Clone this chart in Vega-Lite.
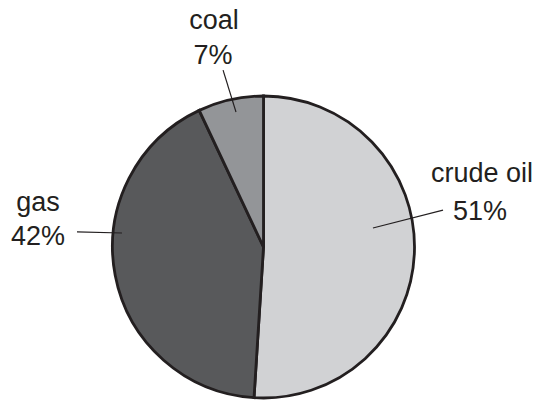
{
  "$schema": "https://vega.github.io/schema/vega-lite/v6.json",
  "width": 539,
  "height": 400,
  "autosize": {"type": "none"},
  "padding": 0,
  "background": "#ffffff",
  "view": {"stroke": null},
  "datasets": {
    "slices": [
      {"source": "crude oil", "value": 51},
      {"source": "gas", "value": 42},
      {"source": "coal", "value": 7}
    ],
    "leaders": [
      {"source": "coal", "x": -0.266, "y": 1.164, "x2": -0.181, "y2": 0.888},
      {"source": "crude oil", "x": 1.181, "y": 0.243, "x2": 0.72, "y2": 0.125},
      {"source": "gas", "x": -1.227, "y": 0.099, "x2": -0.931, "y2": 0.092}
    ],
    "labels": [
      {"text": "coal", "x": -0.326, "y": 1.434},
      {"text": "7%", "x": -0.332, "y": 1.204},
      {"text": "crude oil", "x": 1.4375, "y": 0.428},
      {"text": "51%", "x": 1.424, "y": 0.178},
      {"text": "gas", "x": -1.484, "y": 0.237},
      {"text": "42%", "x": -1.484, "y": 0.013}
    ]
  },
  "layer": [
    {
      "data": {"name": "slices"},
      "mark": {"type": "arc", "outerRadius": 151, "stroke": "#231f20", "strokeWidth": 2.8},
      "encoding": {
        "theta": {"field": "value", "type": "quantitative", "stack": true},
        "order": {"field": "value", "type": "quantitative", "sort": "descending"},
        "color": {
          "field": "source",
          "type": "nominal",
          "scale": {"domain": ["crude oil", "gas", "coal"], "range": ["#d1d2d4", "#58595b", "#939598"]},
          "legend": null
        },
        "x": {"datum": 0, "type": "quantitative", "scale": {"domain": [-1.7336, 1.8125], "nice": false, "zero": false}, "axis": null},
        "y": {"datum": 0, "type": "quantitative", "scale": {"domain": [-1.0066, 1.625], "nice": false, "zero": false}, "axis": null}
      }
    },
    {
      "data": {"name": "leaders"},
      "mark": {"type": "rule", "stroke": "#231f20", "strokeWidth": 1.2},
      "encoding": {
        "x": {"field": "x", "type": "quantitative", "axis": null},
        "y": {"field": "y", "type": "quantitative", "axis": null},
        "x2": {"field": "x2"},
        "y2": {"field": "y2"}
      }
    },
    {
      "data": {"name": "labels"},
      "mark": {"type": "text", "font": "Liberation Sans", "fontSize": 27, "baseline": "alphabetic", "align": "center", "color": "#231f20"},
      "encoding": {
        "x": {"field": "x", "type": "quantitative", "axis": null},
        "y": {"field": "y", "type": "quantitative", "axis": null},
        "text": {"field": "text", "type": "nominal"}
      }
    }
  ]
}
